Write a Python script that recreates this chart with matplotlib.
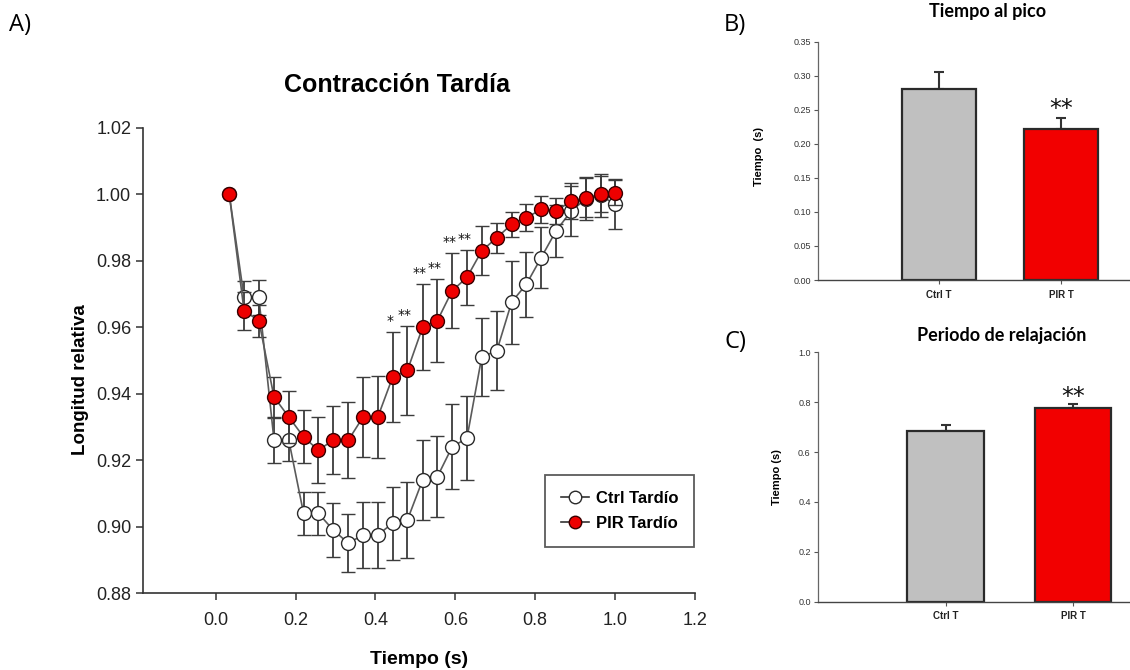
import numpy as np
import matplotlib
matplotlib.use("Agg")
import matplotlib.pyplot as plt
from matplotlib.lines import Line2D
from matplotlib import font_manager as fm

# ---------------- data ----------------
time_s = [0.034, 0.071, 0.108, 0.146, 0.183, 0.220, 0.257, 0.294, 0.332, 0.369,
          0.406, 0.443, 0.480, 0.518, 0.555, 0.592, 0.629, 0.666, 0.704, 0.741,
          0.778, 0.815, 0.852, 0.890, 0.927, 0.964, 1.000]

ctrl_mean = [1.000, 0.969, 0.969, 0.926, 0.926, 0.904, 0.904, 0.899, 0.895, 0.8975,
             0.8975, 0.901, 0.902, 0.914, 0.915, 0.924, 0.9266, 0.951, 0.953, 0.9676,
             0.973, 0.981, 0.989, 0.995, 0.9987, 0.9997, 0.997]
ctrl_sem = [0.000, 0.005, 0.0052, 0.0068, 0.0062, 0.0065, 0.0065, 0.0082, 0.0088, 0.010,
            0.010, 0.011, 0.0115, 0.012, 0.0122, 0.0128, 0.0127, 0.0118, 0.012, 0.0125,
            0.0098, 0.0093, 0.0077, 0.0075, 0.0064, 0.0065, 0.0075]

pir_mean = [1.000, 0.965, 0.962, 0.939, 0.933, 0.927, 0.923, 0.926, 0.926, 0.933,
            0.933, 0.945, 0.947, 0.960, 0.962, 0.971, 0.975, 0.983, 0.987, 0.991,
            0.993, 0.9955, 0.995, 0.998, 0.999, 1.000, 1.0005]
pir_sem = [0.000, 0.0057, 0.0048, 0.006, 0.0077, 0.008, 0.010, 0.0103, 0.0115, 0.012,
           0.0123, 0.0135, 0.0135, 0.013, 0.0125, 0.0113, 0.0082, 0.0074, 0.0045, 0.0038,
           0.004, 0.004, 0.004, 0.0055, 0.0058, 0.0054, 0.0037]

pir_sig = ['', '', '', '', '', '', '', '', '', '', '', '*', '**', '**', '**', '**', '**',
           '', '', '', '', '', '', '', '', '', '']

series_labels = ['Ctrl Tardío', 'PIR Tardío']

bar_cats = ['Ctrl T', 'PIR T']
peak_vals = [0.280, 0.222]
peak_err = [0.026, 0.016]
peak_sig = ['', '**']

relax_vals = [0.684, 0.778]
relax_err = [0.026, 0.015]
relax_sig = ['', '**']

yticks_A = [0.88, 0.90, 0.92, 0.94, 0.96, 0.98, 1.00, 1.02]
xticks_A = [0.0, 0.2, 0.4, 0.6, 0.8, 1.0, 1.2]
yticks_B = [0.00, 0.05, 0.10, 0.15, 0.20, 0.25, 0.30, 0.35]
yticks_C = [0.0, 0.2, 0.4, 0.6, 0.8, 1.0]

# ---------------- fonts ----------------
names = {f.name for f in fm.fontManager.ttflist}
ARIAL = 'Liberation Sans'
CAL = 'Lato' if 'Lato' in names else 'DejaVu Sans'
LET = 'Open Sans' if 'Open Sans' in names else 'DejaVu Sans'
plt.rcParams['font.family'] = [ARIAL, 'DejaVu Sans']

W, H = 1130, 670
fig = plt.figure(figsize=(W / 100, H / 100), dpi=100)


def fx(px):
    return px / W


def fy(py):
    return 1 - py / H


# ---------------- panel A ----------------
axA = fig.add_axes([fx(143), fy(593), fx(695) - fx(143), fy(128) - fy(593)])
red = '#ee0000'
axA.errorbar(time_s, ctrl_mean, yerr=ctrl_sem, fmt='-o', color='#5a5a5a', lw=1.2,
             ms=10, mfc='white', mec='#2a2a2a', mew=1.0, ecolor='#3c3c3c',
             elinewidth=1.3, capsize=4.7, capthick=1.3, zorder=3)
axA.errorbar(time_s, pir_mean, yerr=pir_sem, fmt='-o', color='#5a5a5a', lw=1.2,
             ms=10, mfc=red, mec='#3a0000', mew=1.0, ecolor='#3c3c3c',
             elinewidth=1.3, capsize=4.7, capthick=1.3, zorder=4)

for t, m, e, s in zip(time_s, pir_mean, pir_sem, pir_sig):
    if s:
        axA.annotate(s, (t, m + e), xytext=(-2, 8), textcoords='offset points',
                     ha='center', va='center', fontsize=10,
                     family='DejaVu Sans', color='#111', zorder=6)

axA.set_xlim(-0.182, 1.2)
axA.set_ylim(0.88, 1.02)
axA.set_yticks(yticks_A)
axA.set_yticklabels([f'{v:.2f}' for v in yticks_A])
axA.set_xticks(xticks_A)
axA.set_xticklabels([f'{v:.1f}' for v in xticks_A])
for sp in ['top', 'right']:
    axA.spines[sp].set_visible(False)
for sp in ['left', 'bottom']:
    axA.spines[sp].set_color('#333333')
    axA.spines[sp].set_linewidth(1.2)
axA.tick_params(direction='out', length=5, width=1.1, color='#333333',
                labelsize=13, labelcolor='#222222')
axA.tick_params(axis='x', pad=9)
axA.tick_params(axis='y', pad=3.5)

handles = [
    Line2D([], [], color='#333333', lw=1.2, marker='o', ms=9, mfc='white', mec='#2a2a2a'),
    Line2D([], [], color='#333333', lw=1.2, marker='o', ms=9, mfc=red, mec='#3a0000'),
]
leg = axA.legend(handles, series_labels, loc='upper left',
                 bbox_to_anchor=((545 - 143) / 552, (593 - 475) / 465),
                 borderaxespad=0, frameon=True, fancybox=False, handlelength=1.7,
                 handletextpad=0.4, labelspacing=0.6, borderpad=0.95,
                 prop={'family': ARIAL, 'weight': 'bold', 'size': 12})
leg.get_frame().set_edgecolor('#333333')
leg.get_frame().set_linewidth(1.3)

fig.text(fx(396.5), fy(85), 'Contracción Tardía', ha='center', va='center',
         fontsize=18, fontweight='bold', family=ARIAL)
fig.text(fx(419), fy(659), 'Tiempo (s)', ha='center', va='center',
         fontsize=14, fontweight='bold', family=ARIAL)
fig.text(fx(80.7), fy(380), 'Longitud relativa', ha='center', va='center',
         rotation=90, fontsize=13.5, fontweight='bold', family=ARIAL)


# ---------------- bar panels ----------------
def bar_panel(ax, vals, errs, sigs, ylim, yticks, fmt, xlim, sig_off):
    ax.bar(bar_cats, vals, width=0.6, color=['#c0c0c0', '#f20000'],
           edgecolor='#2a2a2a', linewidth=1.6, zorder=2)
    ax.errorbar(range(len(vals)), vals, yerr=[[0] * len(errs), errs], fmt='none',
                ecolor='#333333', elinewidth=1.5, capsize=3.5, capthick=1.5, zorder=1)
    for i, (v, e, s) in enumerate(zip(vals, errs, sigs)):
        if s:
            ax.annotate(s, (i, v + e), xytext=(0, sig_off), textcoords='offset points',
                        ha='center', va='center', fontsize=17,
                        family='DejaVu Sans', color='#111')
    ax.set_xlim(*xlim)
    ax.set_ylim(*ylim)
    ax.set_yticks(yticks)
    ax.set_yticklabels([fmt.format(v) for v in yticks])
    for sp in ['top', 'right']:
        ax.spines[sp].set_visible(False)
    ax.spines['left'].set_color('#666666')
    ax.spines['left'].set_linewidth(0.9)
    ax.spines['bottom'].set_color('#444444')
    ax.spines['bottom'].set_linewidth(1.0)
    ax.tick_params(direction='out', length=3, width=0.8, color='#555555',
                   labelsize=6.5, labelcolor='#333333', pad=2.5)
    ax.tick_params(axis='x', pad=4)
    for lab in ax.get_xticklabels():
        lab.set_fontweight('bold')
        lab.set_fontsize(7)
        lab.set_color('#222222')


axB = fig.add_axes([fx(818.3), fy(280), 1 - fx(818.3), fy(41.7) - fy(280)])
bar_panel(axB, peak_vals, peak_err, peak_sig, (0, 0.35), yticks_B, '{:.2f}',
          (-0.99, 1.566), 6.5)
axC = fig.add_axes([fx(818.3), fy(601.7), 1 - fx(818.3), fy(352.3) - fy(601.7)])
bar_panel(axC, relax_vals, relax_err, relax_sig, (0, 1.0), yticks_C, '{:.1f}',
          (-1.0, 1.448), 4.8)

fig.text(fx(988), fy(12), 'Tiempo al pico', ha='center', va='center',
         fontsize=13, fontweight='bold', family=CAL)
fig.text(fx(1002), fy(336), 'Periodo de relajación', ha='center', va='center',
         fontsize=13, fontweight='bold', family=CAL)
fig.text(fx(759), fy(157), 'Tiempo  (s)', ha='center', va='center', rotation=90,
         fontsize=8, fontweight='bold', family=ARIAL)
fig.text(fx(777), fy(477), 'Tiempo (s)', ha='center', va='center', rotation=90,
         fontsize=8, fontweight='bold', family=ARIAL)

# panel letters
fig.text(fx(9), fy(25), 'A)', ha='left', va='center', fontsize=17, family=LET)
fig.text(fx(724), fy(25), 'B)', ha='left', va='center', fontsize=17, family=LET)
fig.text(fx(724), fy(342), 'C)', ha='left', va='center', fontsize=17, family=LET)

fig.savefig('out.png', dpi=100)
